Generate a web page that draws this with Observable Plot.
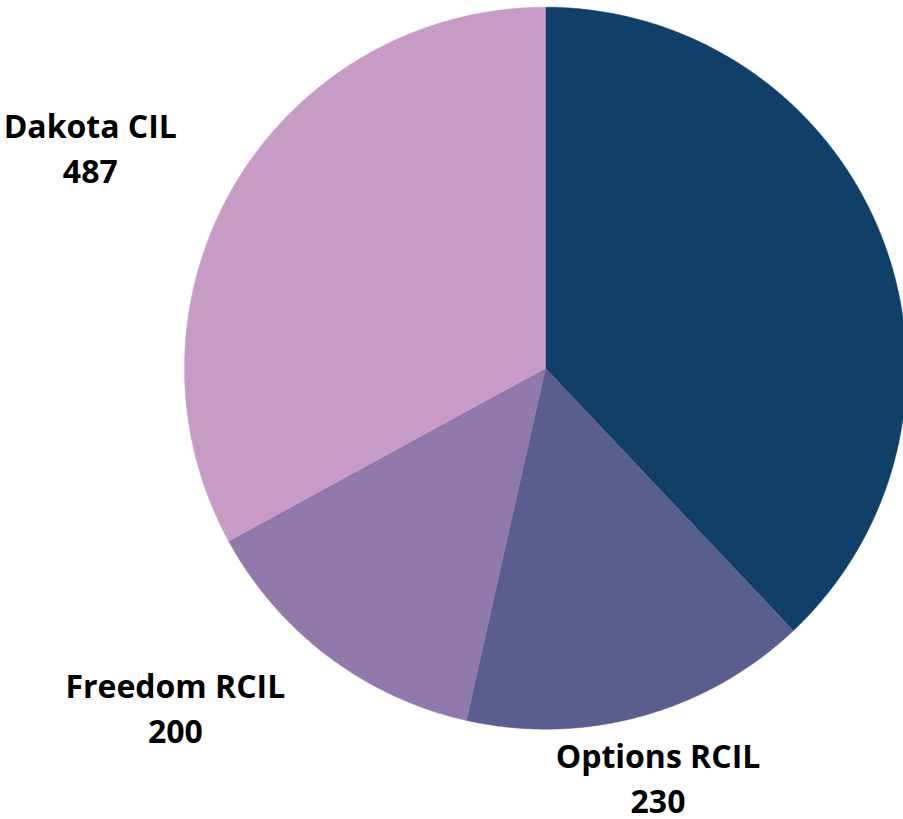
<!DOCTYPE html>
<html>
<head>
<meta charset="utf-8">
<script src="https://cdn.jsdelivr.net/npm/d3@7"></script>
<script src="https://cdn.jsdelivr.net/npm/@observablehq/plot@0.6"></script>
<style>
  html, body { margin: 0; padding: 0; background: #ffffff; }
  #chart svg { display: block; }
</style>
</head>
<body>
<div id="chart"></div>
<script>
// ---- data ----
const categories = ["Independence CIL", "Options RCIL", "Freedom RCIL", "Dakota CIL"];
const values = [561, 230, 200, 487];
const colors = ["#103f69", "#5a5e8e", "#917aab", "#c89bc7"];
const labeled = ["Options RCIL", "Freedom RCIL", "Dakota CIL"];

// ---- layout (label placement relative to slice mid-angle) ----
const labelLayout = {
  "Options RCIL": {r: 1.185, da: 0.1},
  "Freedom RCIL": {r: 1.397, da: 10.2},
  "Dakota CIL": {r: 1.397, da: -5.2}
};

const table = categories.map((name, i) => ({name, value: values[i]}));
const arcs = d3.pie().sort(null).value(d => d.value)(table);

// polygon outline of each slice in unit-circle coordinates
const outline = [];
for (const a of arcs) {
  outline.push({name: a.data.name, x: 0, y: 0});
  const n = Math.max(2, Math.ceil((a.endAngle - a.startAngle) / (Math.PI / 720)));
  for (let k = 0; k <= n; k++) {
    const t = a.startAngle + (a.endAngle - a.startAngle) * k / n;
    outline.push({name: a.data.name, x: Math.sin(t), y: Math.cos(t)});
  }
  outline.push({name: a.data.name, x: 0, y: 0});
}

const labels = arcs
  .filter(a => labeled.includes(a.data.name))
  .map(a => {
    const L = labelLayout[a.data.name];
    const t = (a.startAngle + a.endAngle) / 2 + L.da * Math.PI / 180;
    return {text: a.data.name + "\n" + a.data.value, x: L.r * Math.sin(t), y: L.r * Math.cos(t)};
  });

const chart = Plot.plot({
  width: 903,
  height: 819,
  margin: 0,
  style: {background: "#ffffff", overflow: "hidden"},
  x: {domain: [-1, 1], range: [184, 906], axis: null},
  y: {domain: [-1, 1], range: [728.7, 6.7], axis: null},
  color: {domain: categories, range: colors},
  marks: [
    Plot.line(outline, {x: "x", y: "y", z: "name", fill: "name", stroke: "name", strokeWidth: 0.5, curve: "linear"}),
    Plot.text(labels, {
      x: "x", y: "y", text: "text", dy: -5,
      fontSize: 32, fontWeight: 700, fontFamily: "Open Sans",
      lineHeight: 1.42, lineAnchor: "middle", textAnchor: "middle",
      fill: "#000000"
    })
  ]
});
document.getElementById("chart").appendChild(chart);
</script>
</body>
</html>
